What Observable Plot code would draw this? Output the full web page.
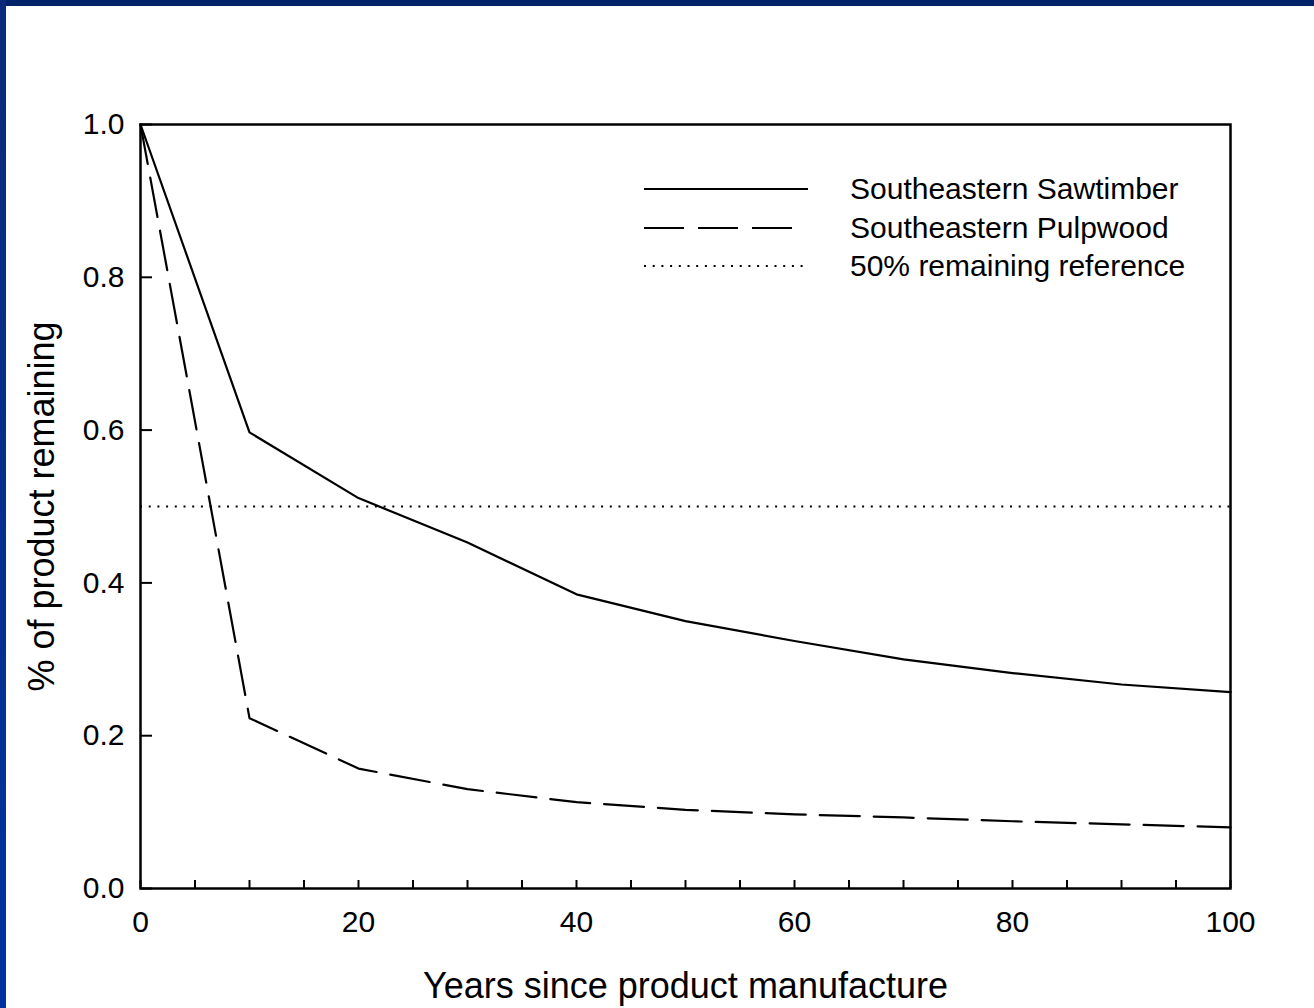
<!DOCTYPE html>
<html><head><meta charset="utf-8">
<script src="https://cdn.jsdelivr.net/npm/d3@7"></script>
<script src="https://cdn.jsdelivr.net/npm/@observablehq/plot@0.6"></script>
<style>
html,body{margin:0;padding:0;background:#fff;}
#wrap{position:relative;width:1314px;height:1008px;overflow:hidden;font-family:"Liberation Sans",Arial,sans-serif;}
#topbar{position:absolute;left:0;top:0;width:1314px;height:6px;background:#00236a;}
#leftbar{position:absolute;left:0;top:0;width:6px;height:1008px;background:linear-gradient(#0b2b7a,#0033a0);}
#legend{position:absolute;left:644px;top:170px;}
.row{display:flex;align-items:center;height:38.5px;}
.row svg{width:164px;height:10px;margin-right:42px;flex:none;}
.row span{font-size:30px;color:#000;white-space:nowrap;}
</style></head>
<body><div id="wrap"><div id="chart"></div><div id="legend"></div><div id="topbar"></div><div id="leftbar"></div></div>
<script>
// ---- data ----
const years = [0, 10, 20, 30, 40, 50, 60, 70, 80, 90, 100];
const sawtimber = [1.0, 0.597, 0.511, 0.453, 0.385, 0.350, 0.324, 0.300, 0.282, 0.267, 0.257];
const pulpwood  = [1.0, 0.223, 0.157, 0.130, 0.113, 0.103, 0.097, 0.093, 0.088, 0.084, 0.080];
const referenceLevel = 0.5;
const seriesNames = ["Southeastern Sawtimber", "Southeastern Pulpwood", "50% remaining reference"];
const xTickLabels = [0, 20, 40, 60, 80, 100];
const xTickMarks = [0, 5, 10, 15, 20, 25, 30, 35, 40, 45, 50, 55, 60, 65, 70, 75, 80, 85, 90, 95, 100];
const yTickLabels = [0.0, 0.2, 0.4, 0.6, 0.8, 1.0];
const xTitle = "Years since product manufacture";
const yTitle = "% of product remaining";

const sawData = years.map((x, i) => ({year: x, value: sawtimber[i]}));
const pulpData = years.map((x, i) => ({year: x, value: pulpwood[i]}));

const font = '"Liberation Sans", Arial, sans-serif';
const dashPattern = "40,14";
const dotPattern = "2,6.7";

const chart = Plot.plot({
  width: 1314, height: 1008,
  marginLeft: 140, marginRight: 84, marginTop: 124, marginBottom: 120,
  style: {fontFamily: font, fontSize: "30px", color: "#000", background: "transparent", overflow: "visible"},
  x: {domain: [0, 100]},
  y: {domain: [0, 1]},
  marks: [
    Plot.ruleY([referenceLevel], {stroke: "#000", strokeWidth: 2, strokeDasharray: dotPattern}),
    Plot.line(sawData, {x: "year", y: "value", stroke: "#000", strokeWidth: 2.2}),
    Plot.line(pulpData, {x: "year", y: "value", stroke: "#000", strokeWidth: 2.2, strokeDasharray: dashPattern}),
    Plot.axisX({ticks: xTickMarks, tickSize: -8, strokeWidth: 2, tickFormat: () => "", label: null}),
    Plot.axisX({ticks: xTickLabels, tickSize: 0, tickPadding: 22, tickFormat: d => String(d), label: null, fontSize: 30}),
    Plot.axisY({ticks: yTickLabels, tickSize: -12, strokeWidth: 2, tickFormat: () => "", label: null}),
    Plot.axisY({ticks: yTickLabels, tickSize: 0, tickPadding: 16, tickFormat: d => d.toFixed(1), label: null, fontSize: 30}),
    Plot.frame({stroke: "#000", strokeWidth: 2.5}),
    Plot.text([xTitle], {frameAnchor: "bottom", text: d => d, dy: 98, fontSize: 36, lineAnchor: "middle", textAnchor: "middle"}),
    Plot.text([yTitle], {frameAnchor: "left", text: d => d, dx: -98, rotate: -90, fontSize: 36, lineAnchor: "middle", textAnchor: "middle"})
  ]
});
document.getElementById("chart").appendChild(chart);

// legend (drawn inside the plot area in the reference)
const legendStyles = [
  {dash: null, len: 164},
  {dash: dashPattern, len: 148},
  {dash: dotPattern, len: 164}
];
const legend = document.getElementById("legend");
seriesNames.forEach((name, i) => {
  const row = document.createElement("div");
  row.className = "row";
  const st = legendStyles[i];
  row.innerHTML = `<svg viewBox="0 0 164 10"><line x1="0" x2="${st.len}" y1="5" y2="5" stroke="#000" stroke-width="2" ${st.dash ? `stroke-dasharray="${st.dash}"` : ""}/></svg><span>${name}</span>`;
  legend.appendChild(row);
});
</script>
</body></html>
